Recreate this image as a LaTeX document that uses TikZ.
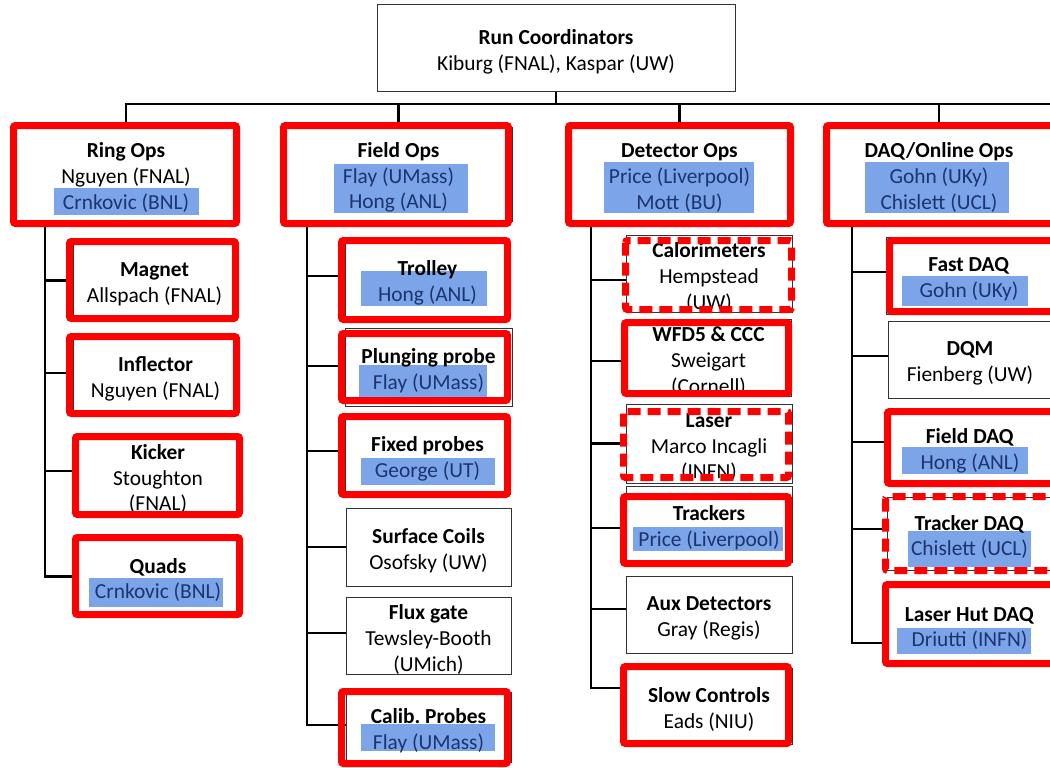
\documentclass[tikz,border=0pt]{standalone}
\usepackage{fontspec}
\setmainfont{Carlito}
\definecolor{hlfill}{RGB}{124,164,232}
\definecolor{hltext}{RGB}{28,52,112}
\definecolor{boxline}{RGB}{50,50,50}
\newcommand\bluetxt[1]{\textcolor{hltext}{#1}}
\newcommand\ts{\rule{0pt}{22pt}}
\newcommand\branchto[3]{\coordinate (#2b) at ([yshift=#3]#2.west); \draw[conn] (#2b -| #1) -- (#2b);}
\tikzset{
  box/.style={draw=boxline, line width=1pt, align=center, inner sep=0pt,
    font=\fontsize{21.4}{25.8}\selectfont},
  conn/.style={draw=black, line width=2.8pt},
  redb/.style={draw=red, line width=7pt, rounded corners=2pt},
  reddash/.style={redb, dash pattern=on 13pt off 7pt},
  hl/.style={fill=hlfill}
}
\begin{document}
\begin{tikzpicture}[x=1pt,y=-1pt]
\fill[white] (0,0) rectangle (1050,768);
\useasboundingbox (0,0) rectangle (1050,768);

% highlights
\fill[hl] (54,188) rectangle (199,215);
\fill[hl] (334,164) rectangle (468,213);
\fill[hl] (604,162) rectangle (754,213);
\fill[hl] (865,162) rectangle (1009,213);
\fill[hl] (89,578) rectangle (223,607);
\fill[hl] (361,271) rectangle (487,306);
\fill[hl] (359,365) rectangle (487,397);
\fill[hl] (361,458) rectangle (495,485);
\fill[hl] (361,724) rectangle (495,751);
\fill[hl] (633,527) rectangle (783,551);
\fill[hl] (902,276) rectangle (1028,306);
\fill[hl] (902,447) rectangle (1028,474);
\fill[hl] (908,531) rectangle (1031,567);
\fill[hl] (897,628) rectangle (1031,654);

% boxes
\node[box, minimum width=358pt, minimum height=87pt] (top) at (556,48.5) {\ts\textbf{Run Coordinators}\\Kiburg (FNAL), Kaspar (UW)};

\node[box, minimum width=222pt, minimum height=94pt] (ring) at (126,174) {\ts\textbf{Ring Ops}\\Nguyen (FNAL)\\\bluetxt{Crnkovic (BNL)}};
\node[box, minimum width=163pt, minimum height=77pt] (magnet) at (154.5,280.5) {\ts\textbf{Magnet}\\Allspach (FNAL)};
\node[box, minimum width=165pt, minimum height=77pt] (inflector) at (155.5,375.5) {\ts\textbf{Inflector}\\Nguyen (FNAL)};
\node[box, minimum width=164pt, minimum height=77pt] (kicker) at (158,475.5) {\ts\textbf{Kicker}\\Stoughton\\(FNAL)};
\node[box, minimum width=164pt, minimum height=73pt] (quads) at (158,576.5) {\ts\textbf{Quads}\\\bluetxt{Crnkovic (BNL)}};

\node[box, minimum width=227pt, minimum height=94pt] (field) at (398.5,174) {\ts\textbf{Field Ops}\\\bluetxt{Flay (UMass)}\\\bluetxt{Hong (ANL)}};
\node[box, minimum width=165pt, minimum height=74pt] (trolley) at (427.5,279) {\ts\textbf{Trolley}\\\bluetxt{Hong (ANL)}};
\node[box, minimum width=167pt, minimum height=78pt] (plunging) at (428.5,367) {\ts\textbf{Plunging probe}\\\bluetxt{Flay (UMass)}};
\node[box, minimum width=165pt, minimum height=77pt] (fixed) at (427.5,455.5) {\ts\textbf{Fixed probes}\\\bluetxt{George (UT)}};
\node[box, minimum width=165pt, minimum height=78pt] (surface) at (428.5,547) {\ts\textbf{Surface Coils}\\Osofsky (UW)};
\node[box, minimum width=165pt, minimum height=76pt] (flux) at (428.5,636) {\ts\textbf{Flux gate}\\Tewsley-Booth\\(UMich)};
\node[box, minimum width=165pt, minimum height=70pt] (calib) at (428.5,727) {\ts\textbf{Calib.\ Probes}\\\bluetxt{Flay (UMass)}};

\node[box, minimum width=217pt, minimum height=94pt] (det) at (679.5,174) {\ts\textbf{Detector Ops}\\\bluetxt{Price (Liverpool)}\\\bluetxt{Mott (BU)}};
\node[box, minimum width=166pt, minimum height=74pt] (calo) at (709,274) {\ts\textbf{Calorimeters}\\Hempstead\\(UW)};
\node[box, minimum width=165pt, minimum height=72pt] (wfd) at (708.5,358) {\ts\textbf{WFD5 \& CCC}\\Sweigart\\(Cornell)};
\node[box, minimum width=166pt, minimum height=79pt] (laser) at (709,443.5) {\ts\textbf{Laser}\\Marco Incagli\\(INFN)};
\node[box, minimum width=166pt, minimum height=76pt] (trackers) at (709,524) {\ts\textbf{Trackers}\\\bluetxt{Price (Liverpool)}};
\node[box, minimum width=166pt, minimum height=77pt] (aux) at (709,614.5) {\ts\textbf{Aux Detectors}\\Gray (Regis)};
\node[box, minimum width=166pt, minimum height=76pt] (slow) at (709,706) {\ts\textbf{Slow Controls}\\Eads (NIU)};

\node[box, minimum width=226pt, minimum height=94pt] (daq) at (939,174) {\ts\textbf{DAQ/Online Ops}\\\bluetxt{Gohn (UKy)}\\\bluetxt{Chislett (UCL)}};
\node[box, minimum width=166pt, minimum height=77pt] (fast) at (969,275.5) {\ts\textbf{Fast DAQ}\\\bluetxt{Gohn (UKy)}};
\node[box, minimum width=164pt, minimum height=77pt] (dqm) at (970,359.5) {\ts\textbf{DQM}\\Fienberg (UW)};
\node[box, minimum width=164pt, minimum height=78pt] (fdaq) at (970,447) {\ts\textbf{Field DAQ}\\\bluetxt{Hong (ANL)}};
\node[box, minimum width=165pt, minimum height=73pt] (tdaq) at (969.5,533.5) {\ts\textbf{Tracker DAQ}\\\bluetxt{Chislett (UCL)}};
\node[box, minimum width=165pt, minimum height=77pt] (lhdaq) at (969.5,624.5) {\ts\textbf{Laser Hut DAQ}\\\bluetxt{Driutti (INFN)}};

% top tree
\coordinate (hb) at (556,104);
\coordinate (hbR) at (1052,104);
\draw[conn] (top.south) -- (hb);
\draw[conn] (ring.north) |- (hbR);
\draw[conn] (field.north) -- (field.north |- hb);
\draw[conn] (det.north) -- (det.north |- hb);
\draw[conn] (daq.north) -- (daq.north |- hb);

% trunks
\coordinate (tR) at (45,0);
\coordinate (tF) at (307,0);
\coordinate (tD) at (591,0);
\coordinate (tQ) at (852,0);

\branchto{tR}{magnet}{0pt}
\branchto{tR}{inflector}{2.5pt}
\branchto{tR}{kicker}{4.5pt}
\coordinate (quadsb) at ([yshift=0pt]quads.west);
\draw[conn] (tR |- ring.south) |- (quadsb);

\branchto{tF}{trolley}{3pt}
\branchto{tF}{plunging}{1pt}
\branchto{tF}{fixed}{4.5pt}
\branchto{tF}{surface}{0pt}
\branchto{tF}{flux}{3pt}
\coordinate (calibb) at ([yshift=2pt]calib.west);
\draw[conn] (tF |- field.south) |- (calibb);

\branchto{tD}{calo}{-6pt}
\branchto{tD}{wfd}{-3pt}
\branchto{tD}{laser}{0pt}
\branchto{tD}{trackers}{-4pt}
\branchto{tD}{aux}{5.5pt}
\coordinate (slowb) at ([yshift=18pt]slow.west);
\draw[conn] (tD |- det.south) |- (slowb);

\branchto{tQ}{fast}{3.5pt}
\branchto{tQ}{dqm}{3.5pt}
\branchto{tQ}{fdaq}{5pt}
\branchto{tQ}{tdaq}{4.5pt}
\coordinate (lhdaqb) at ([yshift=-18.5pt]lhdaq.west);
\draw[conn] (tQ |- daq.south) |- (lhdaqb);

% red overlays
\draw[redb] (13.5,125.5) rectangle (236.5,223.5);
\draw[redb] (283.5,125.5) rectangle (508.5,223.5);
\draw[redb] (568.5,125.5) rectangle (790.5,223.5);
\draw[redb] (826.5,125.5) rectangle (1054,223.5);
\draw[redb] (69.5,241.5) rectangle (235.5,318.5);
\draw[redb] (69.5,336.5) rectangle (236.5,413.5);
\draw[redb] (75.5,436.5) rectangle (239.5,514.5);
\draw[redb] (75.5,537.5) rectangle (239.5,614.5);
\draw[redb] (341.5,240.5) rectangle (507.5,319.5);
\draw[redb] (341.5,333.5) rectangle (507.5,400.5);
\draw[redb] (341.5,416.5) rectangle (507.5,494.5);
\draw[redb] (341.5,691.5) rectangle (507.5,763.5);
\draw[reddash] (625.5,240.5) rectangle (791.5,309.5);
\draw[redb] (624.5,322.5) rectangle (788.5,393.5);
\draw[reddash] (623.5,411.5) rectangle (788.5,477.5);
\draw[redb] (623.5,496.5) rectangle (788.5,563.5);
\draw[redb] (623.5,666.5) rectangle (788.5,743.5);
\draw[redb] (889.5,240.5) rectangle (1054,311.5);
\draw[redb] (887.5,411.5) rectangle (1054,483.5);
\draw[reddash] (885.5,496.5) rectangle (1054,570.5);
\draw[redb] (885.5,584.5) rectangle (1054,663.5);
\end{tikzpicture}
\end{document}
